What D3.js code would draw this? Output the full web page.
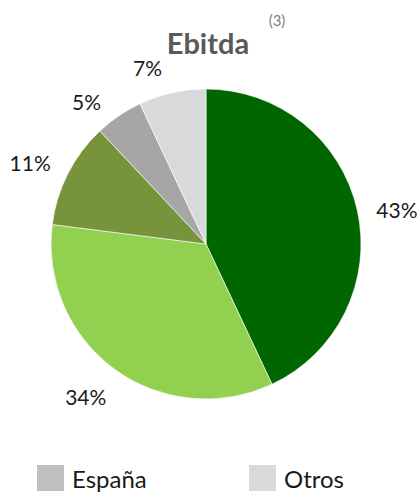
<!DOCTYPE html>
<html>
<head>
<meta charset="utf-8">
<script src="https://cdn.jsdelivr.net/npm/d3@7"></script>
<style>
  html, body { margin: 0; padding: 0; background: #fff; }
  svg { display: block; }
</style>
</head>
<body>
<svg id="chart" width="417" height="493"></svg>
<script>
// ---- data ----
const categories = ["Segmento 1", "Segmento 2", "Segmento 3", "España", "Otros"];
const values = [43, 34, 11, 5, 7];
const labels = ["43%", "34%", "11%", "5%", "7%"];
const colors = ["#006600", "#92d050", "#77933c", "#a6a6a6", "#d9d9d9"];
const legendItems = ["España", "Otros"];
const legendColors = ["#bfbfbf", "#d9d9d9"];
const title = "Ebitda";
const titleNote = "(3)";

// ---- layout ----
const W = 417, H = 493;
const cx = 206, cy = 244, r = 155;
const font = "Lato, 'Open Sans', 'Liberation Sans', sans-serif";

const svg = d3.select("#chart");

// title
svg.append("text")
  .attr("x", 208).attr("y", 54)
  .attr("text-anchor", "middle")
  .attr("font-family", font)
  .attr("font-weight", "bold")
  .attr("font-size", 29)
  .attr("fill", "#595959")
  .text(title);
svg.append("text")
  .attr("x", 277).attr("y", 26)
  .attr("text-anchor", "middle")
  .attr("font-family", font)
  .attr("font-size", 15)
  .attr("fill", "#7f7f7f")
  .text(titleNote);

const data = categories.map((c, i) => ({ cat: c, value: values[i], label: labels[i], color: colors[i] }));

const pie = d3.pie().value(d => d.value).sort(null);
const arcs = pie(data);
const arc = d3.arc().innerRadius(0).outerRadius(r);

const g = svg.append("g").attr("transform", `translate(${cx},${cy})`);
g.selectAll("path.slice")
  .data(arcs)
  .enter().append("path")
  .attr("class", "slice")
  .attr("d", arc)
  .attr("fill", d => d.data.color)
  .attr("stroke", "#ffffff")
  .attr("stroke-width", 0.6);

// labels outside the pie
g.selectAll("text.lbl")
  .data(arcs)
  .enter().append("text")
  .attr("class", "lbl")
  .attr("transform", d => {
    const mid = (d.startAngle + d.endAngle) / 2;
    const small = (d.endAngle - d.startAngle) < 0.5;
    const leftSide = mid > Math.PI * 1.5;
    const a = small ? mid - 0.1 : (leftSide ? mid - 0.035 : mid + 0.04);
    const rr = small ? r + 31 : r + 39;
    return `translate(${rr * Math.sin(a)},${-rr * Math.cos(a)})`;
  })
  .attr("text-anchor", "middle")
  .attr("dominant-baseline", "central")
  .attr("font-family", font)
  .attr("font-size", 21)
  .attr("fill", "#1a1a1a")
  .text(d => d.data.label);

// legend
const legendX = d3.scalePoint().domain(legendItems).range([37, 249]);
const lg = svg.append("g");
legendItems.forEach((name, i) => {
  const x = legendX(name);
  lg.append("rect")
    .attr("x", x).attr("y", 465)
    .attr("width", 27).attr("height", 26)
    .attr("fill", legendColors[i]);
  lg.append("text")
    .attr("x", x + 35).attr("y", 488)
    .attr("font-family", font)
    .attr("font-size", 24)
    .attr("fill", "#1a1a1a")
    .text(name);
});
</script>
</body>
</html>
